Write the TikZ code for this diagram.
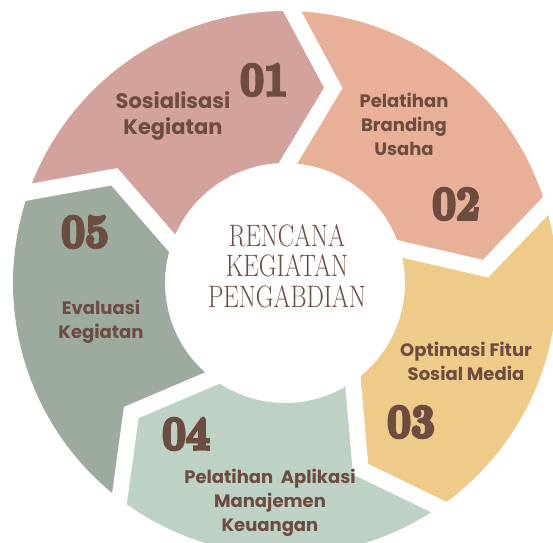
\documentclass[tikz,border=0pt]{standalone}
\usepackage{fontspec}
\usepackage{graphicx}
\usetikzlibrary{calc}
\newfontfamily\labfont{Poppins}
\newfontfamily\numfont{lmroman10-bold.otf}[FakeBold=7]
\definecolor{segA}{HTML}{D4A29C}
\definecolor{segB}{HTML}{E8B197}
\definecolor{segC}{HTML}{EFCB8A}
\definecolor{segD}{HTML}{BDD2C5}
\definecolor{segE}{HTML}{9DAB9F}
\definecolor{ink}{HTML}{6D4C41}
\newcommand\fatnum[1]{\scalebox{0.88}[1]{#1}}
\begin{document}
\begin{tikzpicture}[x=1pt,y=1pt,
  gapline/.style={white, line width=16pt, line join=miter, miter limit=10},
  seglabel/.style={font=\labfont\bfseries\fontsize{18}{24}\selectfont, text=ink, align=center, inner sep=0pt},
  numlabel/.style={font=\numfont\fontsize{47}{47}\selectfont, text=ink, inner sep=0pt},
  titlelabel/.style={text=ink, inner sep=0pt}]
\useasboundingbox (-285,-259) rectangle (268,283);
\clip (-285,-259) rectangle (268,283);
\def\Ro{272}\def\Ri{120}\def\Rt{201}
\foreach \k/\a [evaluate=\a as \b using \a-12.4] in {1/88.5,2/16.5,3/-55.5,4/-127.5,5/-199.5} {
  \coordinate (o\k) at (\a:\Ro);
  \coordinate (t\k) at (\b:\Rt);
  \coordinate (i\k) at (\a:\Ri);
}
% segments
\fill[segA] (o5) arc[start angle=160.5, end angle=88.5, radius=\Ro] -- (t1) -- (i1)
  arc[start angle=88.5, end angle=160.5, radius=\Ri] -- (t5) -- cycle;
\fill[segB] (o1) arc[start angle=88.5, end angle=16.5, radius=\Ro] -- (t2) -- (i2)
  arc[start angle=16.5, end angle=88.5, radius=\Ri] -- (t1) -- cycle;
\fill[segC] (o2) arc[start angle=16.5, end angle=-55.5, radius=\Ro] -- (t3) -- (i3)
  arc[start angle=-55.5, end angle=16.5, radius=\Ri] -- (t2) -- cycle;
\fill[segD] (o3) arc[start angle=-55.5, end angle=-127.5, radius=\Ro] -- (t4) -- (i4)
  arc[start angle=-127.5, end angle=-55.5, radius=\Ri] -- (t3) -- cycle;
\fill[segE] (o4) arc[start angle=-127.5, end angle=-199.5, radius=\Ro] -- (t5) -- (i5)
  arc[start angle=-199.5, end angle=-127.5, radius=\Ri] -- (t4) -- cycle;
% gaps
\foreach \k in {1,...,5} {
  \draw[gapline] ($(t\k)!1.3!(o\k)$) -- (t\k) -- ($(t\k)!1.3!(i\k)$);
}
% numbers
\node[numlabel] (n1) at (-21,203) {\fatnum{01}};
\node[numlabel] (n2) at (171,79) {\fatnum{02}};
\node[numlabel] (n3) at (126,-139) {\fatnum{03}};
\node[numlabel] (n4) at (-99,-151) {\fatnum{04}};
\node[numlabel] (n5) at (-200,51) {\fatnum{05}};
% labels
\node[seglabel, font=\labfont\bfseries\fontsize{21}{26}\selectfont] (l1) at (-112,167.5) {Sosialisasi\\Kegiatan};
\node[seglabel] (l2) at (119,159) {Pelatihan\\Branding\\Usaha};
\node[seglabel] (l3) at (181,-78.5) {Optimasi Fitur\\Sosial Media};
\node[seglabel] (l4) at (-15,-220) {Pelatihan\ \ Aplikasi\\Manajemen\\Keuangan};
\node[seglabel] (l5) at (-184,-39) {Evaluasi\\Kegiatan};
% centre title
\node[titlelabel] (ctr) at (2,13) {\fontsize{31}{27.5}\selectfont\scalebox{0.79}[1]{\begin{tabular}{@{}c@{}}RENCANA\\KEGIATAN\\PENGABDIAN\end{tabular}}};
\end{tikzpicture}
\end{document}
